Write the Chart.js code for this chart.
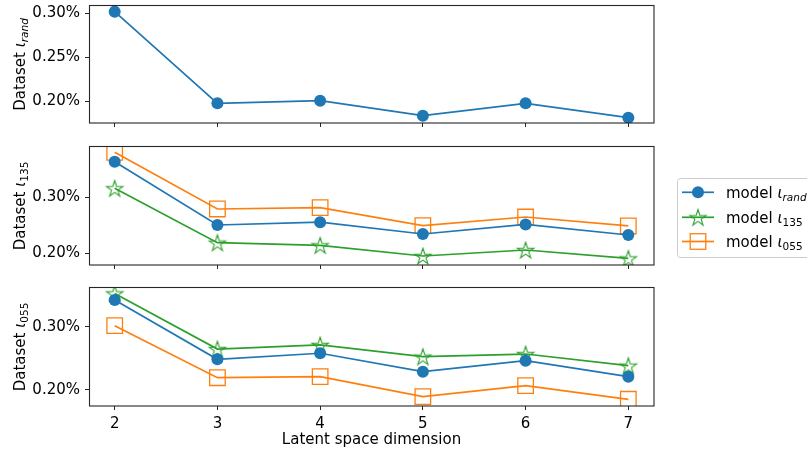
<!DOCTYPE html>
<html>
<head>
<meta charset="utf-8">
<script src="https://cdn.jsdelivr.net/npm/chart.js@4/dist/chart.umd.min.js"></script>
<style>
  html, body { margin: 0; padding: 0; background: #fff; }
  #wrap { position: relative; width: 807px; height: 450px; overflow: hidden; background: #fff; }
  #wrap canvas { position: absolute; left: 0; top: 0; }
</style>
</head>
<body>
<div id="wrap">
  <canvas id="p1" width="807" height="450"></canvas>
  <canvas id="p2" width="807" height="450"></canvas>
  <canvas id="p3" width="807" height="450"></canvas>
</div>
<script>
// Latent space dimensions (x axis)
const dims = [2, 3, 4, 5, 6, 7];

// Error rate (%) measured on dataset ι_rand
const dsRandModelRand = [0.3018, 0.1977, 0.2007, 0.1836, 0.1977, 0.1814];

// Error rate (%) measured on dataset ι_135
const ds135ModelRand = [0.3636, 0.2505, 0.2555, 0.2345, 0.2516, 0.2327];
const ds135Model135  = [0.3161, 0.2190, 0.2143, 0.1952, 0.2059, 0.1909];
const ds135Model055  = [0.3804, 0.2791, 0.2815, 0.2495, 0.2648, 0.2488];

// Error rate (%) measured on dataset ι_055
const ds055ModelRand = [0.3421, 0.2485, 0.2580, 0.2289, 0.2463, 0.2210];
const ds055Model135  = [0.3526, 0.2647, 0.2711, 0.2526, 0.2568, 0.2384];
const ds055Model055  = [0.3016, 0.2194, 0.2210, 0.1895, 0.2068, 0.1853];

// Tick labels
const yTicksRand = [0.20, 0.25, 0.30];
const yTicksOther = [0.20, 0.30];
const xTitle = 'Latent space dimension';
const subsetNames = ['rand', '135', '055'];

const FONT = "'DejaVu Sans', sans-serif";
const FS = 15;
const COLORS = { rand: '#1f77b4', '135': '#2ca02c', '055': '#ff7f0e' };
const SPINE = '#262626';
const LEFT = 89, RIGHT = 654, W = 807, H = 450;

// "prefix ι_name" as rich-text parts (italic iota, subscripted name)
function iotaParts(prefix, name) {
  const italicSub = /[a-z]/.test(name);
  return [
    { t: prefix },
    { t: 'ι', it: true },
    { t: name, it: italicSub, sub: true }
  ];
}

function partFont(p) {
  const fs = p.sub ? FS * 0.7 : FS;
  return (p.it ? 'italic ' : '') + fs + 'px ' + FONT;
}
function richWidth(ctx, parts) {
  let w = 0;
  for (const p of parts) { ctx.font = partFont(p); w += ctx.measureText(p.t).width; }
  return w;
}
function drawRich(ctx, parts, x, y) {
  let cx = x;
  for (const p of parts) {
    ctx.font = partFont(p);
    ctx.fillText(p.t, cx, y + (p.sub ? FS * 0.2 : 0));
    cx += ctx.measureText(p.t).width;
  }
}

// Hollow five-pointed star used as a point style
function makeStar(R, color, lw) {
  const s = Math.ceil(2 * R + 2 * lw + 2);
  const c = document.createElement('canvas');
  c.width = s; c.height = s;
  const g = c.getContext('2d');
  g.translate(s / 2, s / 2 + R * 0.1);
  g.beginPath();
  for (let i = 0; i < 10; i++) {
    const a = -Math.PI / 2 + i * Math.PI / 5;
    const r = i % 2 ? R * 0.382 : R;
    const px = r * Math.cos(a), py = r * Math.sin(a);
    if (i === 0) g.moveTo(px, py); else g.lineTo(px, py);
  }
  g.closePath();
  g.strokeStyle = color;
  g.lineWidth = lw;
  g.lineJoin = 'miter';
  g.stroke();
  return c;
}
const starImg = makeStar(8.6, COLORS['135'], 1.1);

const markerStyle = {
  rand: { pointStyle: 'circle', pointRadius: 6, pointBackgroundColor: COLORS.rand, pointBorderColor: COLORS.rand, pointBorderWidth: 0 },
  '135': { pointStyle: starImg, pointRadius: 8, pointBackgroundColor: 'rgba(0,0,0,0)', pointBorderColor: COLORS['135'], pointBorderWidth: 1.1 },
  '055': { pointStyle: 'rect', pointRadius: 11, pointBackgroundColor: 'rgba(0,0,0,0)', pointBorderColor: COLORS['055'], pointBorderWidth: 1.3 }
};

function makeDataset(model, values) {
  return Object.assign({
    label: 'model ι' + model,
    modelName: model,
    data: dims.map((d, i) => ({ x: d, y: values[i] })),
    borderColor: COLORS[model],
    backgroundColor: COLORS[model],
    borderWidth: 1.7,
    fill: false,
    tension: 0,
    clip: 0
  }, markerStyle[model]);
}

// Frame around each plot area
const framePlugin = {
  id: 'frame',
  afterDraw(chart) {
    const { ctx, chartArea: a } = chart;
    ctx.save();
    ctx.strokeStyle = SPINE;
    ctx.lineWidth = 1.1;
    ctx.strokeRect(Math.round(a.left) + 0.5, Math.round(a.top) - 0.5, Math.round(a.right - a.left) - 0.5, Math.round(a.bottom - a.top) + 0.5);
    ctx.restore();
  }
};

// Rotated y-axis title with subscript
const yTitlePlugin = {
  id: 'yTitle',
  afterDraw(chart, args, opts) {
    if (!opts || !opts.parts) return;
    const { ctx, chartArea: a } = chart;
    ctx.save();
    ctx.fillStyle = '#000';
    ctx.textBaseline = 'alphabetic';
    ctx.translate(opts.x, (a.top + a.bottom) / 2);
    ctx.rotate(-Math.PI / 2);
    const w = richWidth(ctx, opts.parts);
    drawRich(ctx, opts.parts, -w / 2, 0);
    ctx.restore();
  }
};

// Legend box to the right of the panels
const sideLegendPlugin = {
  id: 'sideLegend',
  afterDraw(chart, args, opts) {
    if (!opts || !opts.show) return;
    const { ctx } = chart;
    const bx = 677.5, by = 178.5, bw = 160, bh = 79, r = 3;
    ctx.save();
    ctx.beginPath();
    ctx.moveTo(bx + r, by);
    ctx.lineTo(bx + bw - r, by);
    ctx.arcTo(bx + bw, by, bx + bw, by + r, r);
    ctx.lineTo(bx + bw, by + bh - r);
    ctx.arcTo(bx + bw, by + bh, bx + bw - r, by + bh, r);
    ctx.lineTo(bx + r, by + bh);
    ctx.arcTo(bx, by + bh, bx, by + bh - r, r);
    ctx.lineTo(bx, by + r);
    ctx.arcTo(bx, by, bx + r, by, r);
    ctx.closePath();
    ctx.fillStyle = 'rgba(255,255,255,0.8)';
    ctx.fill();
    ctx.strokeStyle = '#cccccc';
    ctx.lineWidth = 1;
    ctx.stroke();

    const rowY = [192.3, 217.3, 241.5];
    chart.data.datasets.forEach((ds, i) => {
      const y = rowY[i];
      const m = ds.modelName;
      ctx.strokeStyle = ds.borderColor;
      ctx.lineWidth = ds.borderWidth;
      ctx.beginPath();
      ctx.moveTo(682, y);
      ctx.lineTo(714, y);
      ctx.stroke();
      const cx = 698;
      if (m === 'rand') {
        ctx.fillStyle = ds.pointBackgroundColor;
        ctx.beginPath();
        ctx.arc(cx, y, ds.pointRadius, 0, Math.PI * 2);
        ctx.fill();
      } else if (m === '135') {
        ctx.drawImage(starImg, cx - starImg.width / 2, y - starImg.height / 2);
      } else {
        const h = ds.pointRadius * Math.SQRT1_2;
        ctx.lineWidth = ds.pointBorderWidth;
        ctx.strokeStyle = ds.pointBorderColor;
        ctx.strokeRect(cx - h, y - h, 2 * h, 2 * h);
      }
      ctx.fillStyle = '#000';
      ctx.textBaseline = 'alphabetic';
      drawRich(ctx, iotaParts('model ', m), 726, y + 5.5);
    });
    ctx.restore();
  }
};

function makePanel(canvasId, geom, yTicks, datasetName, datasets, showXLabels, showLegend) {
  const xh = showXLabels ? 44 : 10;
  return new Chart(document.getElementById(canvasId), {
    type: 'line',
    data: { datasets },
    plugins: [framePlugin, yTitlePlugin, sideLegendPlugin],
    options: {
      responsive: false,
      animation: false,
      devicePixelRatio: 1,
      events: [],
      layout: { padding: { left: 0, right: W - RIGHT, top: geom.top, bottom: H - geom.bottom - xh } },
      plugins: {
        legend: { display: false },
        tooltip: { enabled: false },
        yTitle: { parts: iotaParts('Dataset ', datasetName), x: 25 },
        sideLegend: { show: showLegend }
      },
      scales: {
        x: {
          type: 'linear',
          min: 1.75,
          max: 7.25,
          afterBuildTicks: s => { s.ticks = dims.map(v => ({ value: v })); },
          afterFit: s => { s.height = xh; s.paddingLeft = 0; s.paddingRight = 0; },
          border: { display: false },
          grid: { drawOnChartArea: false, drawTicks: true, tickLength: 4, tickWidth: 1, tickColor: SPINE, color: SPINE },
          ticks: { display: showXLabels, color: '#000', padding: 5, font: { family: FONT, size: FS }, maxRotation: 0, autoSkip: false, callback: v => String(v) },
          title: { display: showXLabels, text: xTitle, color: '#000', font: { family: FONT, size: FS }, padding: { top: 0, bottom: 1 } }
        },
        y: {
          type: 'linear',
          min: geom.ymin,
          max: geom.ymax,
          afterBuildTicks: s => { s.ticks = yTicks.map(v => ({ value: v })); },
          afterFit: s => { s.width = LEFT; s.paddingTop = 0; s.paddingBottom = 0; },
          border: { display: false },
          grid: { drawOnChartArea: false, drawTicks: true, tickLength: 4, tickWidth: 1, tickColor: SPINE, color: SPINE },
          ticks: { color: '#000', padding: 5, font: { family: FONT, size: FS }, autoSkip: false, callback: v => v.toFixed(2) + '%' }
        }
      }
    }
  });
}

makePanel('p1', { top: 6, bottom: 123, ymin: 0.1753, ymax: 0.3083 }, yTicksRand, subsetNames[0],
  [makeDataset('rand', dsRandModelRand)], false, false);

makePanel('p2', { top: 147, bottom: 265, ymin: 0.1791, ymax: 0.3898 }, yTicksOther, subsetNames[1],
  [makeDataset('rand', ds135ModelRand), makeDataset('135', ds135Model135), makeDataset('055', ds135Model055)], false, true);

makePanel('p3', { top: 288, bottom: 406, ymin: 0.1747, ymax: 0.3611 }, yTicksOther, subsetNames[2],
  [makeDataset('rand', ds055ModelRand), makeDataset('135', ds055Model135), makeDataset('055', ds055Model055)], true, false);
</script>
</body>
</html>
